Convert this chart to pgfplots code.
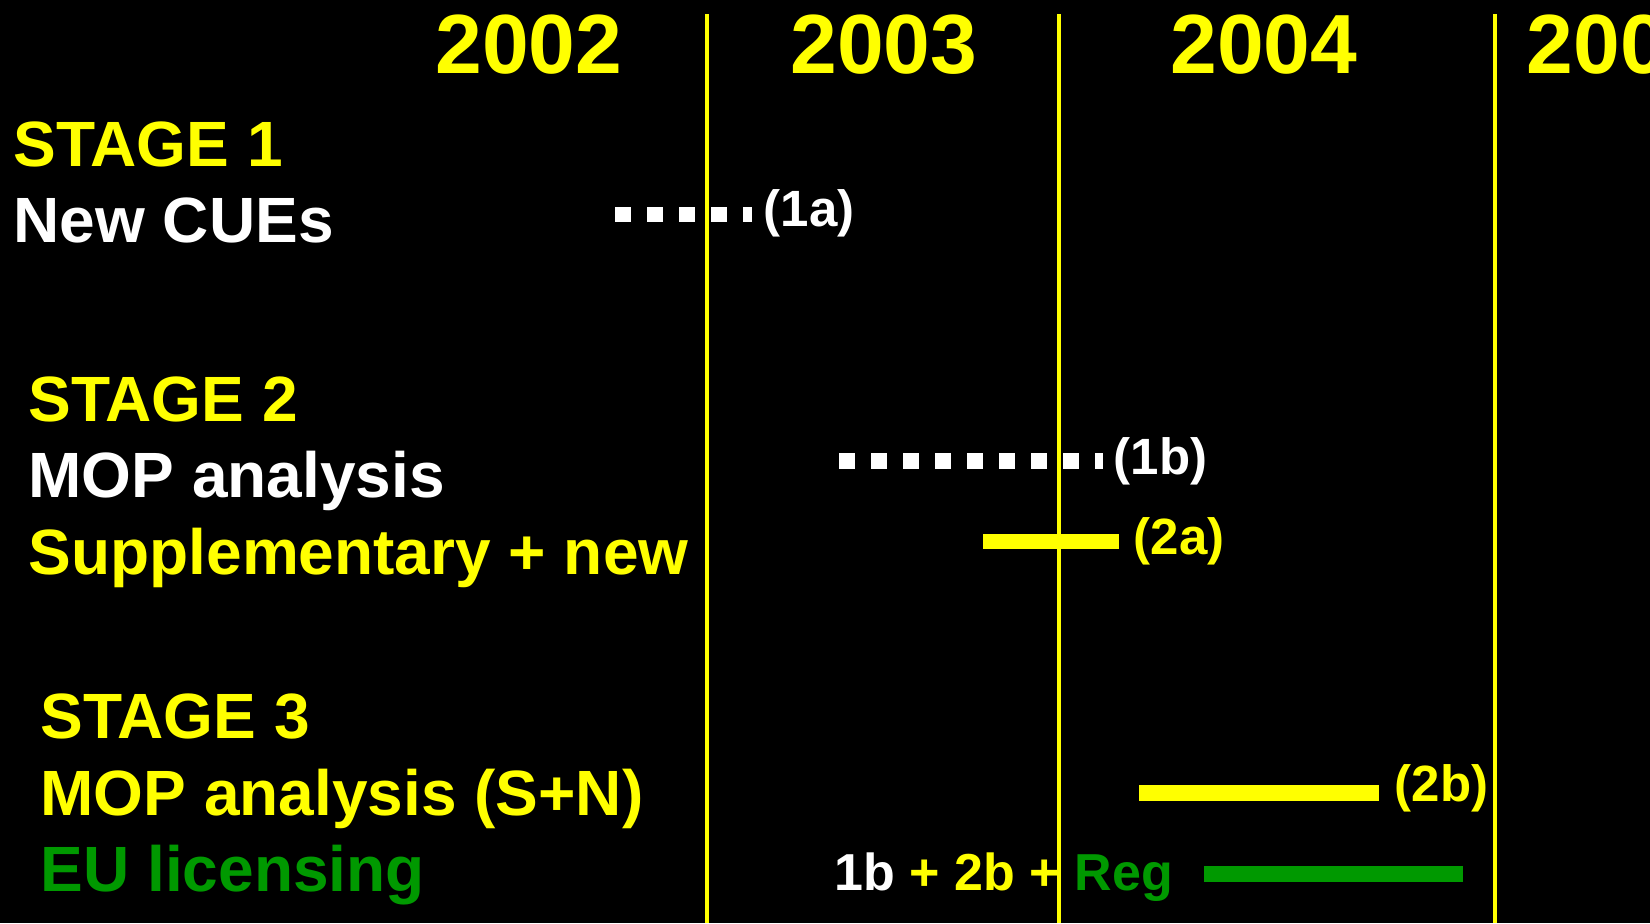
\documentclass[border=0pt]{standalone}
\usepackage{pgfplots}
\pgfplotsset{compat=1.18}
\usepackage{fontspec}
\setmainfont{Liberation Sans}
\definecolor{slideyellow}{RGB}{255,255,0}
\definecolor{slidegreen}{RGB}{0,153,0}
\begin{document}
\begin{tikzpicture}
\begin{axis}[
  x=0.3pt, y=0.3pt, y dir=reverse,
  xmin=0, xmax=1650, ymin=0, ymax=923,
  hide axis, clip=true,
]
\fill[black] (rel axis cs:0,0) rectangle (rel axis cs:1,1);
\coordinate (BL) at (rel axis cs:0,0);
\coordinate (TR) at (rel axis cs:1,1);
% year boundaries
\addplot[slideyellow, line width=1.2pt] coordinates {(707,14) (707,923)};
\addplot[slideyellow, line width=1.2pt] coordinates {(1059,14) (1059,923)};
\addplot[slideyellow, line width=1.2pt] coordinates {(1495,14) (1495,923)};
% (1a) dotted
\addplot[white, line width=4.5pt, dash pattern=on 4.8pt off 4.8pt] coordinates {(615,214.5) (752,214.5)};
% (1b) dotted
\addplot[white, line width=4.8pt, dash pattern=on 4.8pt off 4.8pt] coordinates {(839,461) (1103,461)};
% (2a)
\addplot[slideyellow, line width=4.6pt] coordinates {(983,541.5) (1119,541.5)};
% (2b)
\addplot[slideyellow, line width=4.8pt] coordinates {(1139,793) (1379,793)};
% EU licensing
\addplot[slidegreen, line width=4.8pt] coordinates {(1204,873.5) (1463,873.5)};

% years
\tikzset{yr/.style={anchor=base, inner sep=0pt, text=slideyellow, font=\bfseries\fontsize{25.2}{30}\selectfont}}
\node[yr] at (axis cs:529,73) {2002};
\node[yr] at (axis cs:884,73) {2003};
\node[yr] at (axis cs:1264,73) {2004};
\node[yr, anchor=base west] at (axis cs:1526,73) {2005};

% left labels
\tikzset{lab/.style={anchor=base west, inner sep=0pt, font=\bfseries\fontsize{19.2}{23}\selectfont}}
\node[lab, text=slideyellow] at (axis cs:13,166) {STAGE 1};
\node[lab, text=white] at (axis cs:13,242) {New CUEs};
\node[lab, text=slideyellow] at (axis cs:28,421) {STAGE 2};
\node[lab, text=white] at (axis cs:28,497) {MOP analysis};
\node[lab, text=slideyellow] at (axis cs:28,574) {Supplementary + new};
\node[lab, text=slideyellow] at (axis cs:40,738) {STAGE 3};
\node[lab, text=slideyellow] at (axis cs:40,815) {MOP analysis (S+N)};
\node[lab, text=slidegreen] at (axis cs:40,891) {EU licensing};

% annotations
\tikzset{ann/.style={anchor=base west, inner sep=0pt, font=\bfseries\fontsize{15.3}{18}\selectfont}}
\node[ann, text=white] at (axis cs:763,226) {(1a)};
\node[ann, text=white] at (axis cs:1113,474) {(1b)};
\node[ann, text=slideyellow] at (axis cs:1133,554) {(2a)};
\node[ann, text=slideyellow] at (axis cs:1394,801) {(2b)};
\node[ann, font=\bfseries\fontsize{15.6}{18}\selectfont] at (axis cs:834,890) {\textcolor{white}{1b} \textcolor{slideyellow}{+ 2b +} \textcolor{slidegreen}{Reg}};
\end{axis}
\pgfresetboundingbox
\path[use as bounding box] (BL) rectangle (TR);
\end{tikzpicture}
\end{document}
